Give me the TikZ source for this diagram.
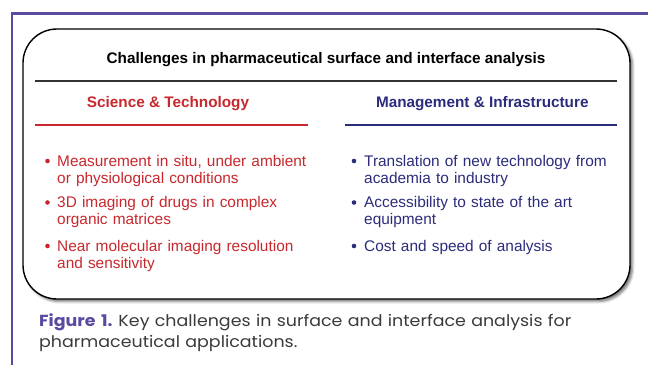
\documentclass[tikz,border=0pt]{standalone}
\usepackage{fontspec}
\setmainfont{Liberation Sans}
\newfontfamily\capfont[FakeStretch=1.09]{Poppins}
\usepackage{xcolor}
\usetikzlibrary{positioning,shadows.blur}

\definecolor{scired}{HTML}{C8282D}
\definecolor{mgmtblue}{HTML}{2C2C7C}
\definecolor{framepurple}{HTML}{5B4A9F}
\definecolor{capgray}{HTML}{3A3A3A}

\begin{document}
\begin{tikzpicture}[
    x=1pt, y=-1pt,
    panel/.style={draw=black, line width=1.4pt, rounded corners=34pt, fill=white,
                  minimum width=607pt, minimum height=270pt, inner sep=0pt,
                  blur shadow={shadow xshift=2.5pt, shadow yshift=-2.5pt,
                               shadow blur radius=2.5pt, shadow opacity=55}},
    heading/.style={anchor=base, inner sep=0pt, font=\fontsize{15.3}{17}\selectfont\bfseries},
    bullettext/.style={anchor=base west, inner sep=0pt, text width=250pt, align=left,
                       font=\fontsize{15.4}{17}\selectfont},
    dot/.style={circle, fill, inner sep=0pt, minimum size=4.6pt},
    rule/.style={line width=1.3pt}
]
    \useasboundingbox (0,0) rectangle (648,365);

    % page frame
    \draw[framepurple, line width=2.2pt] (12,365) -- (12,13.5) -- (648,13.5);

    % rounded panel
    \node[panel] (panel) at (326.5,164) {};

    % title
    \node[heading] (title) at (326,63) {Challenges in pharmaceutical surface and interface analysis};
    \draw[rule, black!80] (35,81) -- (617,81);

    % column headings
    \node[heading, scired] (sci) at (168,107.7) {Science \& Technology};
    \node[heading, mgmtblue] (mgmt) at (482.3,107.7) {Management \& Infrastructure};
    \draw[rule, scired] (35,125) -- (307.5,125);
    \draw[rule, mgmtblue] (345,125) -- (617,125);

    % left column
    \node[bullettext, scired] (s1) at (57,166) {Measurement in situ, under ambient\\or physiological conditions};
    \node[bullettext, scired] (s2) at (57,207.5) {3D imaging of drugs in complex\\organic matrices};
    \node[bullettext, scired] (s3) at (57,251) {Near molecular imaging resolution\\and sensitivity};
    \foreach \y in {161,202.5,246}
        \node[dot, scired] at (47.5,\y) {};

    % right column
    \node[bullettext, mgmtblue] (m1) at (364,166) {Translation of new technology from\\academia to industry};
    \node[bullettext, mgmtblue] (m2) at (364,207.5) {Accessibility to state of the art\\equipment};
    \node[bullettext, mgmtblue] (m3) at (364,251) {Cost and speed of analysis};
    \foreach \y in {161,202.5,246}
        \node[dot, mgmtblue] at (354,\y) {};

    % caption
    \node[anchor=base west, inner sep=0pt, text width=600pt, align=left, capgray,
          font=\capfont\fontsize{16}{21}\selectfont] (caption) at (39,326.7)
        {{\color{framepurple}\bfseries Figure 1.}\hspace{-2pt} Key challenges in surface and interface analysis for\\pharmaceutical applications.};
\end{tikzpicture}
\end{document}
